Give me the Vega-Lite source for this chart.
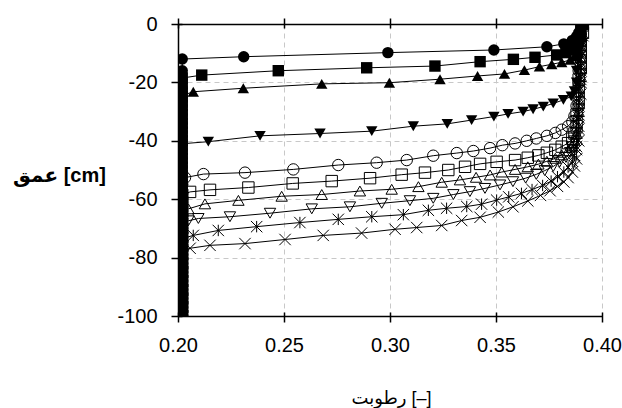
{
"$schema":"https://vega.github.io/schema/vega-lite/v6.json",
"width":424,"height":292,
"autosize":"none",
"padding":{"left":178,"top":24,"right":20,"bottom":92},
"background":"white",
"config":{"view":{"stroke":null},"axis":{"labelFont":"Liberation Sans","titleFont":"Liberation Sans, DejaVu Sans"}},
"data":{"values":[
{"s":"A","x":0.202,"y":-100},{"s":"A","x":0.202,"y":-97},{"s":"A","x":0.202,"y":-94},{"s":"A","x":0.202,"y":-91},{"s":"A","x":0.202,"y":-88},{"s":"A","x":0.202,"y":-85},{"s":"A","x":0.202,"y":-82},{"s":"A","x":0.202,"y":-79},{"s":"A","x":0.202,"y":-76},{"s":"A","x":0.202,"y":-73},{"s":"A","x":0.202,"y":-70},{"s":"A","x":0.202,"y":-67},{"s":"A","x":0.202,"y":-64},{"s":"A","x":0.202,"y":-61},{"s":"A","x":0.202,"y":-58},{"s":"A","x":0.202,"y":-55},{"s":"A","x":0.202,"y":-52},{"s":"A","x":0.202,"y":-49},{"s":"A","x":0.202,"y":-46},{"s":"A","x":0.202,"y":-43},{"s":"A","x":0.202,"y":-40},{"s":"A","x":0.202,"y":-37},{"s":"A","x":0.202,"y":-34},{"s":"A","x":0.202,"y":-31},{"s":"A","x":0.202,"y":-28},{"s":"A","x":0.202,"y":-25},{"s":"A","x":0.202,"y":-22},{"s":"A","x":0.202,"y":-19},{"s":"A","x":0.202,"y":-16},
{"s":"A","x":0.202,"y":-12},{"s":"A","x":0.231,"y":-11.2},{"s":"A","x":0.299,"y":-9.8},{"s":"A","x":0.349,"y":-8.9},{"s":"A","x":0.374,"y":-7.8},{"s":"A","x":0.382,"y":-6.8},{"s":"A","x":0.386,"y":-5.6},{"s":"A","x":0.388,"y":-4.3},{"s":"A","x":0.389,"y":-3},{"s":"A","x":0.39,"y":-1.5},{"s":"A","x":0.391,"y":0},
{"s":"B","x":0.202,"y":-100},{"s":"B","x":0.202,"y":-97},{"s":"B","x":0.202,"y":-94},{"s":"B","x":0.202,"y":-91},{"s":"B","x":0.202,"y":-88},{"s":"B","x":0.202,"y":-85},{"s":"B","x":0.202,"y":-82},{"s":"B","x":0.202,"y":-79},{"s":"B","x":0.202,"y":-76},{"s":"B","x":0.202,"y":-73},{"s":"B","x":0.202,"y":-70},{"s":"B","x":0.202,"y":-67},{"s":"B","x":0.202,"y":-64},{"s":"B","x":0.202,"y":-61},{"s":"B","x":0.202,"y":-58},{"s":"B","x":0.202,"y":-55},{"s":"B","x":0.202,"y":-52},{"s":"B","x":0.202,"y":-49},{"s":"B","x":0.202,"y":-46},{"s":"B","x":0.202,"y":-43},{"s":"B","x":0.202,"y":-40},{"s":"B","x":0.202,"y":-37},{"s":"B","x":0.202,"y":-34},{"s":"B","x":0.202,"y":-31},{"s":"B","x":0.202,"y":-28},{"s":"B","x":0.202,"y":-25},{"s":"B","x":0.202,"y":-22},
{"s":"B","x":0.202,"y":-18.5},{"s":"B","x":0.2112,"y":-17.5},{"s":"B","x":0.2473,"y":-16},{"s":"B","x":0.289,"y":-15},{"s":"B","x":0.3212,"y":-14.4},{"s":"B","x":0.3425,"y":-12.9},{"s":"B","x":0.3582,"y":-12.1},{"s":"B","x":0.3684,"y":-11.4},{"s":"B","x":0.3786,"y":-10.6},{"s":"B","x":0.383,"y":-9.8},{"s":"B","x":0.386,"y":-8.8},{"s":"B","x":0.388,"y":-7.5},{"s":"B","x":0.389,"y":-6},{"s":"B","x":0.39,"y":-4},{"s":"B","x":0.39,"y":-2},{"s":"B","x":0.391,"y":0},
{"s":"C","x":0.202,"y":-100},{"s":"C","x":0.202,"y":-97},{"s":"C","x":0.202,"y":-94},{"s":"C","x":0.202,"y":-91},{"s":"C","x":0.202,"y":-88},{"s":"C","x":0.202,"y":-85},{"s":"C","x":0.202,"y":-82},{"s":"C","x":0.202,"y":-79},{"s":"C","x":0.202,"y":-76},{"s":"C","x":0.202,"y":-73},{"s":"C","x":0.202,"y":-70},{"s":"C","x":0.202,"y":-67},{"s":"C","x":0.202,"y":-64},{"s":"C","x":0.202,"y":-61},{"s":"C","x":0.202,"y":-58},{"s":"C","x":0.202,"y":-55},{"s":"C","x":0.202,"y":-52},{"s":"C","x":0.202,"y":-49},{"s":"C","x":0.202,"y":-46},{"s":"C","x":0.202,"y":-43},{"s":"C","x":0.202,"y":-40},{"s":"C","x":0.202,"y":-37},{"s":"C","x":0.202,"y":-34},{"s":"C","x":0.202,"y":-31},{"s":"C","x":0.202,"y":-28},
{"s":"C","x":0.202,"y":-24.5},{"s":"C","x":0.2072,"y":-23.2},{"s":"C","x":0.2308,"y":-22},{"s":"C","x":0.2678,"y":-20.5},{"s":"C","x":0.2997,"y":-20.1},{"s":"C","x":0.3236,"y":-18.9},{"s":"C","x":0.3413,"y":-17.8},{"s":"C","x":0.354,"y":-17.1},{"s":"C","x":0.3634,"y":-15.8},{"s":"C","x":0.3705,"y":-14.6},{"s":"C","x":0.3763,"y":-13.8},{"s":"C","x":0.381,"y":-13.1},{"s":"C","x":0.385,"y":-12.3},{"s":"C","x":0.387,"y":-11},{"s":"C","x":0.388,"y":-9},{"s":"C","x":0.389,"y":-7},{"s":"C","x":0.39,"y":-4.5},{"s":"C","x":0.39,"y":-2},{"s":"C","x":0.391,"y":0},
{"s":"D","x":0.202,"y":-100},{"s":"D","x":0.202,"y":-97},{"s":"D","x":0.202,"y":-94},{"s":"D","x":0.202,"y":-91},{"s":"D","x":0.202,"y":-88},{"s":"D","x":0.202,"y":-85},{"s":"D","x":0.202,"y":-82},{"s":"D","x":0.202,"y":-79},{"s":"D","x":0.202,"y":-76},{"s":"D","x":0.202,"y":-73},{"s":"D","x":0.202,"y":-70},{"s":"D","x":0.202,"y":-67},{"s":"D","x":0.202,"y":-64},{"s":"D","x":0.202,"y":-61},{"s":"D","x":0.202,"y":-58},{"s":"D","x":0.202,"y":-55},{"s":"D","x":0.202,"y":-52},{"s":"D","x":0.202,"y":-49},{"s":"D","x":0.202,"y":-46},{"s":"D","x":0.202,"y":-43},
{"s":"D","x":0.202,"y":-41},{"s":"D","x":0.2143,"y":-40.3},{"s":"D","x":0.2387,"y":-38.3},{"s":"D","x":0.267,"y":-37.5},{"s":"D","x":0.2914,"y":-36.7},{"s":"D","x":0.311,"y":-35},{"s":"D","x":0.327,"y":-34.2},{"s":"D","x":0.3385,"y":-32.9},{"s":"D","x":0.349,"y":-31.7},{"s":"D","x":0.3557,"y":-30.8},{"s":"D","x":0.3628,"y":-30},{"s":"D","x":0.3675,"y":-29.2},{"s":"D","x":0.3723,"y":-28.3},{"s":"D","x":0.377,"y":-27.2},{"s":"D","x":0.3818,"y":-26},{"s":"D","x":0.3855,"y":-24.8},{"s":"D","x":0.387,"y":-23},{"s":"D","x":0.388,"y":-20},{"s":"D","x":0.388,"y":-16},{"s":"D","x":0.389,"y":-12},{"s":"D","x":0.389,"y":-8},{"s":"D","x":0.39,"y":-4},{"s":"D","x":0.391,"y":0},
{"s":"E","x":0.202,"y":-100},{"s":"E","x":0.202,"y":-97},{"s":"E","x":0.202,"y":-94},{"s":"E","x":0.202,"y":-91},{"s":"E","x":0.202,"y":-88},{"s":"E","x":0.202,"y":-85},{"s":"E","x":0.202,"y":-82},{"s":"E","x":0.202,"y":-79},{"s":"E","x":0.202,"y":-76},{"s":"E","x":0.202,"y":-73},{"s":"E","x":0.202,"y":-70},{"s":"E","x":0.202,"y":-67},{"s":"E","x":0.202,"y":-64},{"s":"E","x":0.202,"y":-61},{"s":"E","x":0.202,"y":-58},{"s":"E","x":0.202,"y":-55},
{"s":"E","x":0.2033,"y":-52.6},{"s":"E","x":0.212,"y":-51.4},{"s":"E","x":0.2316,"y":-50.9},{"s":"E","x":0.2544,"y":-49.8},{"s":"E","x":0.2756,"y":-48.3},{"s":"E","x":0.2937,"y":-47.5},{"s":"E","x":0.3079,"y":-46.6},{"s":"E","x":0.3204,"y":-45.1},{"s":"E","x":0.3315,"y":-44.2},{"s":"E","x":0.3393,"y":-43.5},{"s":"E","x":0.3472,"y":-42.5},{"s":"E","x":0.353,"y":-41.5},{"s":"E","x":0.359,"y":-40.9},{"s":"E","x":0.3645,"y":-40},{"s":"E","x":0.369,"y":-39.2},{"s":"E","x":0.374,"y":-38.3},{"s":"E","x":0.378,"y":-37.3},{"s":"E","x":0.381,"y":-36.2},{"s":"E","x":0.384,"y":-35},{"s":"E","x":0.386,"y":-33.5},{"s":"E","x":0.387,"y":-31.5},{"s":"E","x":0.388,"y":-28},{"s":"E","x":0.388,"y":-24},{"s":"E","x":0.389,"y":-20},{"s":"E","x":0.389,"y":-16},{"s":"E","x":0.39,"y":-12},{"s":"E","x":0.39,"y":-8},{"s":"E","x":0.39,"y":-4},{"s":"E","x":0.391,"y":0},
{"s":"F","x":0.202,"y":-100},{"s":"F","x":0.202,"y":-97},{"s":"F","x":0.202,"y":-94},{"s":"F","x":0.202,"y":-91},{"s":"F","x":0.202,"y":-88},{"s":"F","x":0.202,"y":-85},{"s":"F","x":0.202,"y":-82},{"s":"F","x":0.202,"y":-79},{"s":"F","x":0.202,"y":-76},{"s":"F","x":0.202,"y":-73},{"s":"F","x":0.202,"y":-70},{"s":"F","x":0.202,"y":-67},{"s":"F","x":0.202,"y":-64},{"s":"F","x":0.202,"y":-61},
{"s":"F","x":0.202,"y":-58.5},{"s":"F","x":0.2057,"y":-57.5},{"s":"F","x":0.2151,"y":-56.8},{"s":"F","x":0.2332,"y":-56},{"s":"F","x":0.2541,"y":-54.6},{"s":"F","x":0.2725,"y":-53.8},{"s":"F","x":0.2906,"y":-52.8},{"s":"F","x":0.3055,"y":-51.6},{"s":"F","x":0.3165,"y":-50.9},{"s":"F","x":0.3275,"y":-50},{"s":"F","x":0.3354,"y":-48.9},{"s":"F","x":0.3425,"y":-47.9},{"s":"F","x":0.3503,"y":-47.2},{"s":"F","x":0.359,"y":-46.6},{"s":"F","x":0.365,"y":-45.8},{"s":"F","x":0.37,"y":-45},{"s":"F","x":0.374,"y":-44.1},{"s":"F","x":0.378,"y":-43.1},{"s":"F","x":0.381,"y":-42},{"s":"F","x":0.384,"y":-40.8},{"s":"F","x":0.386,"y":-39.3},{"s":"F","x":0.387,"y":-37.5},{"s":"F","x":0.388,"y":-35},{"s":"F","x":0.388,"y":-31},{"s":"F","x":0.389,"y":-27},{"s":"F","x":0.389,"y":-23},{"s":"F","x":0.389,"y":-19},{"s":"F","x":0.39,"y":-15},{"s":"F","x":0.39,"y":-11},{"s":"F","x":0.39,"y":-7},{"s":"F","x":0.391,"y":-3},{"s":"F","x":0.391,"y":0},
{"s":"G","x":0.202,"y":-100},{"s":"G","x":0.202,"y":-97},{"s":"G","x":0.202,"y":-94},{"s":"G","x":0.202,"y":-91},{"s":"G","x":0.202,"y":-88},{"s":"G","x":0.202,"y":-85},{"s":"G","x":0.202,"y":-82},{"s":"G","x":0.202,"y":-79},{"s":"G","x":0.202,"y":-76},{"s":"G","x":0.202,"y":-73},{"s":"G","x":0.202,"y":-70},{"s":"G","x":0.202,"y":-67},
{"s":"G","x":0.202,"y":-64.3},{"s":"G","x":0.2049,"y":-63.3},{"s":"G","x":0.2127,"y":-61.6},{"s":"G","x":0.2285,"y":-60.4},{"s":"G","x":0.2489,"y":-59},{"s":"G","x":0.2678,"y":-58.4},{"s":"G","x":0.2858,"y":-57.2},{"s":"G","x":0.3008,"y":-56.6},{"s":"G","x":0.3134,"y":-55.7},{"s":"G","x":0.3244,"y":-54.2},{"s":"G","x":0.333,"y":-53.4},{"s":"G","x":0.3406,"y":-52.5},{"s":"G","x":0.3472,"y":-51.7},{"s":"G","x":0.3527,"y":-50.7},{"s":"G","x":0.359,"y":-49.8},{"s":"G","x":0.365,"y":-48.9},{"s":"G","x":0.37,"y":-48},{"s":"G","x":0.374,"y":-47},{"s":"G","x":0.378,"y":-46},{"s":"G","x":0.381,"y":-44.8},{"s":"G","x":0.384,"y":-43.4},{"s":"G","x":0.386,"y":-41.8},{"s":"G","x":0.387,"y":-40},{"s":"G","x":0.388,"y":-37.5},{"s":"G","x":0.388,"y":-34},{"s":"G","x":0.389,"y":-30},{"s":"G","x":0.389,"y":-26},{"s":"G","x":0.389,"y":-22},{"s":"G","x":0.39,"y":-18},{"s":"G","x":0.39,"y":-14},{"s":"G","x":0.39,"y":-10},{"s":"G","x":0.39,"y":-6},{"s":"G","x":0.391,"y":0},
{"s":"H","x":0.202,"y":-100},{"s":"H","x":0.202,"y":-97},{"s":"H","x":0.202,"y":-94},{"s":"H","x":0.202,"y":-91},{"s":"H","x":0.202,"y":-88},{"s":"H","x":0.202,"y":-85},{"s":"H","x":0.202,"y":-82},{"s":"H","x":0.202,"y":-79},{"s":"H","x":0.202,"y":-76},{"s":"H","x":0.202,"y":-73},{"s":"H","x":0.202,"y":-70},
{"s":"H","x":0.202,"y":-68.3},{"s":"H","x":0.2049,"y":-67.4},{"s":"H","x":0.2096,"y":-66.6},{"s":"H","x":0.2245,"y":-66},{"s":"H","x":0.2434,"y":-64.8},{"s":"H","x":0.2631,"y":-63.3},{"s":"H","x":0.2811,"y":-62.6},{"s":"H","x":0.2961,"y":-61.4},{"s":"H","x":0.3094,"y":-60.5},{"s":"H","x":0.3204,"y":-59.7},{"s":"H","x":0.3299,"y":-58.4},{"s":"H","x":0.3377,"y":-57.4},{"s":"H","x":0.3448,"y":-56.3},{"s":"H","x":0.3519,"y":-55.1},{"s":"H","x":0.358,"y":-54},{"s":"H","x":0.364,"y":-52.8},{"s":"H","x":0.369,"y":-51.5},{"s":"H","x":0.373,"y":-50.2},{"s":"H","x":0.377,"y":-48.8},{"s":"H","x":0.38,"y":-47.3},{"s":"H","x":0.383,"y":-45.7},{"s":"H","x":0.385,"y":-44},{"s":"H","x":0.386,"y":-42},{"s":"H","x":0.387,"y":-40},{"s":"H","x":0.388,"y":-37},{"s":"H","x":0.388,"y":-33},{"s":"H","x":0.389,"y":-29},{"s":"H","x":0.389,"y":-25},{"s":"H","x":0.389,"y":-21},{"s":"H","x":0.39,"y":-17},{"s":"H","x":0.39,"y":-13},{"s":"H","x":0.39,"y":-9},{"s":"H","x":0.39,"y":-5},{"s":"H","x":0.391,"y":0},
{"s":"I","x":0.202,"y":-100},{"s":"I","x":0.202,"y":-97},{"s":"I","x":0.202,"y":-94},{"s":"I","x":0.202,"y":-91},{"s":"I","x":0.202,"y":-88},{"s":"I","x":0.202,"y":-85},{"s":"I","x":0.202,"y":-82},{"s":"I","x":0.202,"y":-79},{"s":"I","x":0.202,"y":-76},
{"s":"I","x":0.202,"y":-73.5},{"s":"I","x":0.2072,"y":-72.4},{"s":"I","x":0.219,"y":-70.7},{"s":"I","x":0.2371,"y":-69.4},{"s":"I","x":0.2575,"y":-68},{"s":"I","x":0.2756,"y":-66.9},{"s":"I","x":0.2914,"y":-66},{"s":"I","x":0.3063,"y":-65.3},{"s":"I","x":0.3181,"y":-63.8},{"s":"I","x":0.3267,"y":-63.1},{"s":"I","x":0.3362,"y":-62.5},{"s":"I","x":0.3432,"y":-61.7},{"s":"I","x":0.3503,"y":-60.3},{"s":"I","x":0.356,"y":-59.2},{"s":"I","x":0.362,"y":-58},{"s":"I","x":0.367,"y":-56.7},{"s":"I","x":0.372,"y":-55.3},{"s":"I","x":0.376,"y":-53.8},{"s":"I","x":0.379,"y":-52.3},{"s":"I","x":0.382,"y":-50.7},{"s":"I","x":0.384,"y":-49},{"s":"I","x":0.386,"y":-47},{"s":"I","x":0.387,"y":-45},{"s":"I","x":0.388,"y":-42},{"s":"I","x":0.388,"y":-39},{"s":"I","x":0.389,"y":-35},{"s":"I","x":0.389,"y":-31},{"s":"I","x":0.389,"y":-27},{"s":"I","x":0.389,"y":-23},{"s":"I","x":0.39,"y":-19},{"s":"I","x":0.39,"y":-15},{"s":"I","x":0.39,"y":-11},{"s":"I","x":0.39,"y":-7},{"s":"I","x":0.391,"y":-3},{"s":"I","x":0.391,"y":0},
{"s":"J","x":0.202,"y":-100},{"s":"J","x":0.202,"y":-97},{"s":"J","x":0.202,"y":-94},{"s":"J","x":0.202,"y":-91},{"s":"J","x":0.202,"y":-88},{"s":"J","x":0.202,"y":-85},{"s":"J","x":0.202,"y":-82},{"s":"J","x":0.202,"y":-79},
{"s":"J","x":0.202,"y":-77.7},{"s":"J","x":0.2057,"y":-76.8},{"s":"J","x":0.2151,"y":-75.8},{"s":"J","x":0.2316,"y":-75.2},{"s":"J","x":0.2505,"y":-73.8},{"s":"J","x":0.2685,"y":-72.4},{"s":"J","x":0.2866,"y":-71.6},{"s":"J","x":0.3024,"y":-70.3},{"s":"J","x":0.3126,"y":-69.7},{"s":"J","x":0.3244,"y":-69},{"s":"J","x":0.3338,"y":-67.3},{"s":"J","x":0.3425,"y":-66.2},{"s":"J","x":0.3511,"y":-64.4},{"s":"J","x":0.358,"y":-62.6},{"s":"J","x":0.365,"y":-60.6},{"s":"J","x":0.371,"y":-58.7},{"s":"J","x":0.3755,"y":-57.1},{"s":"J","x":0.379,"y":-55.6},{"s":"J","x":0.382,"y":-54.1},{"s":"J","x":0.384,"y":-52.6},{"s":"J","x":0.386,"y":-50.7},{"s":"J","x":0.387,"y":-48.6},{"s":"J","x":0.388,"y":-46.2},{"s":"J","x":0.388,"y":-43},{"s":"J","x":0.389,"y":-40},{"s":"J","x":0.389,"y":-36},{"s":"J","x":0.389,"y":-32},{"s":"J","x":0.389,"y":-28},{"s":"J","x":0.39,"y":-24},{"s":"J","x":0.39,"y":-20},{"s":"J","x":0.39,"y":-16},{"s":"J","x":0.39,"y":-12},{"s":"J","x":0.39,"y":-8},{"s":"J","x":0.391,"y":-4},{"s":"J","x":0.391,"y":0}
]},
"resolve":{"scale":{"x":"independent","y":"independent"},"axis":{"x":"independent","y":"independent"}},
"layer":[
{"mark":{"type":"line","color":"black","strokeWidth":1,"clip":true},
 "encoding":{
  "x":{"field":"x","type":"quantitative","scale":{"domain":[0.2,0.4],"nice":false,"zero":false},
   "axis":{"orient":"bottom","values":[0.2,0.25,0.3,0.35,0.4],"format":".2f","labelFlush":false,"labelOverlap":false,"domain":true,"domainColor":"black","domainWidth":1.5,"ticks":false,"tickSize":0,"labelPadding":19,"labelFontSize":20,"labelColor":"black","grid":true,"gridColor":"#c8c8c8","gridDash":[5,4],"gridWidth":1,"title":"رطوبت [–]","titleFontSize":18,"titleFontWeight":"normal","titleColor":"black","titleX":213,"titleY":82,"titleAlign":"center","titleBaseline":"middle"}},
  "y":{"field":"y","type":"quantitative","scale":{"domain":[-100,0],"nice":false,"zero":false},
   "axis":{"orient":"left","values":[-100,-80,-60,-40,-20,0],"labelExpr":"datum.value < 0 ? '-' + abs(datum.value) : '' + datum.value","labelFlush":false,"labelOverlap":false,"domain":true,"domainColor":"black","domainWidth":1.5,"ticks":false,"tickSize":0,"labelPadding":21,"labelFontSize":20,"labelColor":"black","grid":true,"gridColor":"#c8c8c8","gridDash":[5,4],"gridWidth":1,"title":"عمق [cm]","titleFontSize":20,"titleFontWeight":"bold","titleColor":"black","titleAngle":0,"titleX":-119,"titleY":151,"titleAlign":"center","titleBaseline":"middle"}},
  "detail":{"field":"s","type":"nominal"},
  "order":{"field":"y","type":"quantitative"}
 }},
{"transform":[{"filter":{"field":"s","oneOf":["A","B","C","D"]}}],
 "mark":{"type":"point","filled":true,"color":"black","size":130,"opacity":1,"clip":true},
 "encoding":{
  "x":{"field":"x","type":"quantitative","scale":{"domain":[0.2,0.4],"nice":false,"zero":false},"axis":{"orient":"top","values":[0.2,0.25,0.3,0.35,0.4],"domain":true,"domainColor":"black","domainWidth":1.5,"labels":false,"grid":false,"ticks":false,"tickSize":0,"title":""}},
  "y":{"field":"y","type":"quantitative","scale":{"domain":[-100,0],"nice":false,"zero":false},"axis":{"orient":"left","values":[-100,-80,-60,-40,-20,0],"domain":false,"labels":false,"grid":false,"ticks":true,"tickSize":11,"tickWidth":1.5,"tickColor":"black","offset":-4,"title":""}},
  "shape":{"field":"s","type":"nominal","legend":null,"scale":{"domain":["A","B","C","D","E","F","G","H","I","J"],"range":["circle","square","triangle-up","triangle-down","circle","square","triangle-up","triangle-down","M0,-1L0,1M-1,-1L1,1M-1,1L1,-1","M-1,-1L1,1M-1,1L1,-1"]}}
 }},
{"transform":[{"filter":{"field":"s","oneOf":["E","F","G","H"]}}],
 "mark":{"type":"point","filled":false,"color":"black","size":130,"strokeWidth":1,"opacity":1,"clip":true},
 "encoding":{
  "x":{"field":"x","type":"quantitative","scale":{"domain":[0.2,0.4],"nice":false,"zero":false},"axis":{"orient":"bottom","values":[0.2,0.25,0.3,0.35,0.4],"domain":false,"labels":false,"grid":false,"ticks":true,"tickSize":10,"tickWidth":1.5,"tickColor":"black","offset":-4,"title":""}},
  "y":{"field":"y","type":"quantitative","scale":{"domain":[-100,0],"nice":false,"zero":false},"axis":null},
  "shape":{"field":"s","type":"nominal","legend":null}
 }},
{"transform":[{"filter":{"field":"s","oneOf":["I","J"]}}],
 "mark":{"type":"point","filled":false,"color":"black","size":130,"strokeWidth":1,"opacity":1,"clip":true},
 "encoding":{
  "x":{"field":"x","type":"quantitative","scale":{"domain":[0.2,0.4],"nice":false,"zero":false},"axis":{"orient":"top","values":[0.2,0.25,0.3,0.35,0.4],"domain":false,"labels":false,"grid":false,"ticks":true,"tickSize":10,"tickWidth":1.5,"tickColor":"black","offset":-4,"title":""}},
  "y":{"field":"y","type":"quantitative","scale":{"domain":[-100,0],"nice":false,"zero":false},"axis":null},
  "shape":{"field":"s","type":"nominal","legend":null}
 }}
]
}
